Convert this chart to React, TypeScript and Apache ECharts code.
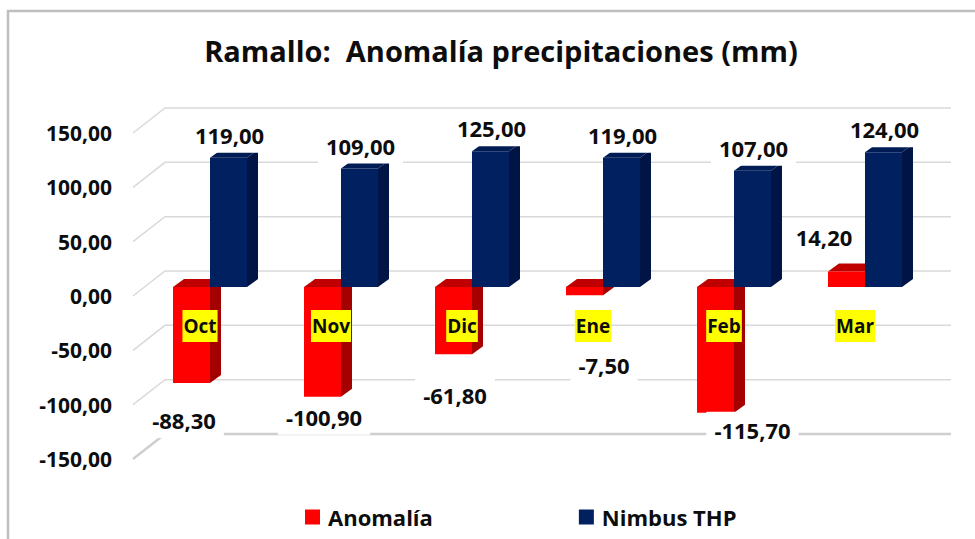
import React, { useEffect, useRef } from "react";
import * as echarts from "echarts";

const categories = ["Oct", "Nov", "Dic", "Ene", "Feb", "Mar"];
const anomalia = [-88.3, -100.9, -61.8, -7.5, -115.7, 14.2];
const nimbus = [119, 109, 125, 119, 107, 124];
const yTicks = [-150, -100, -50, 0, 50, 100, 150];
const seriesNames = ["Anomalía", "Nimbus THP"];
// manual label displacement of the Anomalía labels (px), as in the original
const anomaliaLabelShift = [
  [-7.5, 37],
  [1.5, 20],
  [1.5, 41],
  [19.5, 70],
  [37, 17],
  [-22.5, -35],
];

const FONT = "'Open Sans', 'Noto Sans', sans-serif";
const BAR_SHIFT: [number, number] = [11.5, -9]; // bar plane vs front plane
const BAR_DEPTH: [number, number] = [11, -8];
const WALL_DEPTH: [number, number] = [32, -25];

const fmt = (v: number) => v.toFixed(2).replace(".", ",");

function barRenderer(
  side: 0 | 1,
  colors: { front: string; top: string; side: string },
  labelShift: (i: number) => [number, number]
) {
  return (params: any, api: any) => {
    const i = api.value(0) as number;
    const v = api.value(1) as number;
    const base = api.coord([i, 0]);
    const end = api.coord([i, v]);
    const band = api.size([1, 0])[0];
    const bw = band * 0.2824;
    const x0 = base[0] + BAR_SHIFT[0] - (side === 0 ? bw : 0);
    const x1 = x0 + bw;
    const yb = base[1] + BAR_SHIFT[1];
    const ye = end[1] + BAR_SHIFT[1];
    const yT = Math.min(yb, ye);
    const yB = Math.max(yb, ye);
    const [dx, dy] = BAR_DEPTH;
    const sh = labelShift(i);
    return {
      type: "group",
      children: [
        {
          type: "polygon",
          shape: {
            points: [
              [x1, yT],
              [x1 + dx, yT + dy],
              [x1 + dx, yB + dy],
              [x1, yB],
            ],
          },
          style: { fill: colors.side },
        },
        {
          type: "polygon",
          shape: {
            points: [
              [x0, yT],
              [x0 + dx, yT + dy],
              [x1 + dx, yT + dy],
              [x1, yT],
            ],
          },
          style: { fill: colors.top },
        },
        {
          type: "rect",
          shape: { x: x0, y: yT, width: bw, height: yB - yT },
          style: { fill: colors.front },
        },
        {
          type: "text",
          x: (x0 + x1) / 2 + sh[0],
          y: ye + sh[1],
          z2: 10,
          style: {
            text: fmt(v),
            fill: "#0D0D0D",
            fontSize: 22,
            fontWeight: "bold",
            fontFamily: FONT,
            align: "center",
            verticalAlign: "middle",
            backgroundColor: "#FFFFFF",
            padding: [7, 8],
          },
        },
      ],
    };
  };
}

export default function App() {
  const ref = useRef<HTMLDivElement>(null);
  useEffect(() => {
    if (!ref.current) return;
    const chart = echarts.init(ref.current, null, { renderer: "svg" });
    chart.setOption({
      animation: false,
      backgroundColor: "#FFFFFF",
      title: {
        text: "Ramallo:  Anomalía precipitaciones (mm)",
        left: 496,
        top: 31,
        textAlign: "center",
        textStyle: {
          fontSize: 29,
          fontWeight: "bold",
          fontFamily: FONT,
          color: "#0D0D0D",
        },
      },
      legend: {
        data: seriesNames,
        left: 300,
        top: 501,
        icon: "rect",
        itemWidth: 15,
        itemHeight: 15,
        itemGap: 146,
        textStyle: {
          fontSize: 22,
          fontWeight: "bold",
          fontFamily: FONT,
          color: "#0D0D0D",
          padding: [0, 0, 0, 3],
        },
      },
      graphic: [
        {
          type: "rect",
          shape: { x: 8, y: 11, width: 1100, height: 700 },
          style: { fill: "none", stroke: "#BFBFBF", lineWidth: 2.5 },
          silent: true,
        },
      ],
      grid: { left: 133, right: 56, top: 133, bottom: 80, containLabel: false },
      xAxis: {
        type: "category",
        data: categories,
        axisLine: { show: false },
        axisTick: { show: false },
        splitLine: { show: false },
        axisLabel: { show: false },
      },
      yAxis: {
        type: "value",
        min: -150,
        max: 150,
        interval: 50,
        axisLine: { show: false },
        axisTick: { show: false },
        splitLine: { show: false },
        axisLabel: {
          margin: 21,
          color: "#0D0D0D",
          fontSize: 21,
          fontWeight: "bold",
          fontFamily: FONT,
          formatter: (v: number) => fmt(v),
        },
      },
      series: [
        {
          type: "custom",
          name: "walls",
          silent: true,
          clip: false,
          z: 1,
          data: yTicks.map((t) => [0, t]),
          encode: { x: 0, y: 1 },
          renderItem: (params: any, api: any) => {
            const cs = params.coordSys;
            const v = api.value(1);
            const y = api.coord([0, v])[1];
            const left = cs.x;
            const right = cs.x + cs.width;
            const isFloor = v === yTicks[0];
            return {
              type: "polyline",
              shape: {
                points: [
                  [left, y],
                  [left + WALL_DEPTH[0], y + WALL_DEPTH[1]],
                  [right + WALL_DEPTH[0], y + WALL_DEPTH[1]],
                ],
              },
              style: {
                fill: "none",
                stroke: isFloor ? "#CFCFCF" : "#D9D9D9",
                lineWidth: isFloor ? 2.5 : 1.5,
              },
            };
          },
        },
        {
          type: "custom",
          name: seriesNames[0],
          clip: false,
          z: 2,
          itemStyle: { color: "#FF0000" },
          data: anomalia.map((v, i) => [i, v]),
          encode: { x: 0, y: 1 },
          renderItem: barRenderer(
            0,
            { front: "#FF0000", top: "#C00000", side: "#A50000" },
            (i) => anomaliaLabelShift[i] as [number, number]
          ),
        },
        {
          type: "custom",
          name: seriesNames[1],
          clip: false,
          z: 3,
          itemStyle: { color: "#002060" },
          data: nimbus.map((v, i) => [i, v]),
          encode: { x: 0, y: 1 },
          renderItem: barRenderer(
            1,
            { front: "#002060", top: "#001C55", side: "#001545" },
            () => [1, -23]
          ),
        },
        {
          type: "custom",
          name: "categoryLabels",
          silent: true,
          clip: false,
          z: 4,
          data: categories.map((c, i) => [i, 0]),
          encode: { x: 0, y: 1 },
          renderItem: (params: any, api: any) => {
            const i = api.value(0) as number;
            const p = api.coord([i, 0]);
            return {
              type: "text",
              x: p[0] + 1.5,
              y: p[1] + 14,
              style: {
                text: categories[i],
                fill: "#0D0D0D",
                fontSize: 19,
                fontWeight: "bold",
                fontFamily: FONT,
                align: "center",
                verticalAlign: "top",
                backgroundColor: "#FFFF00",
                padding: [4, 1],
                lineHeight: 24,
              },
            };
          },
        },
      ],
    });
    return () => chart.dispose();
  }, []);
  return (
    <div
      ref={ref}
      style={{ position: "fixed", left: 0, top: 0, width: 975, height: 539 }}
    />
  );
}
